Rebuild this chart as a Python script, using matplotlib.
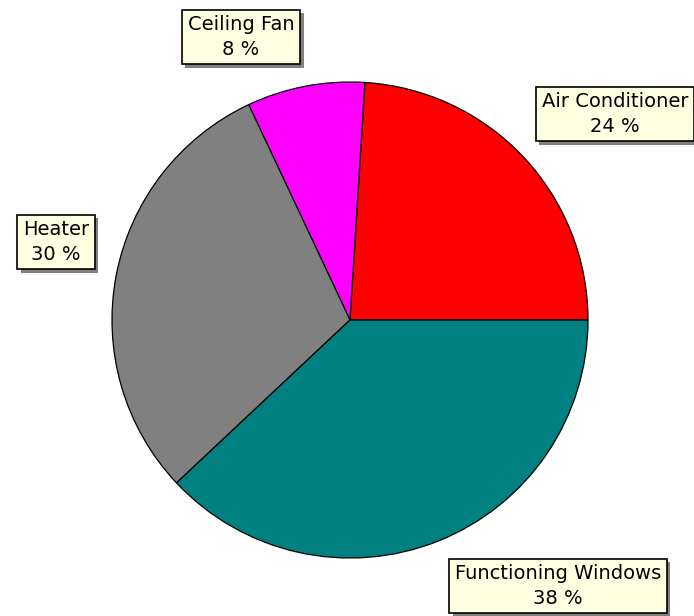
import matplotlib.pyplot as plt
import matplotlib.patheffects as pe

labels = ["Air Conditioner", "Ceiling Fan", "Heater", "Functioning Windows"]
values = [24, 8, 30, 38]
colors = ["#FF0000", "#FF00FF", "#808080", "#008080"]

# label box centres in pixel coordinates (y measured from top)
label_pos = [(615, 114), (241, 37), (56, 242), (558, 586)]

W, H = 694, 616
fig = plt.figure(figsize=(W / 100, H / 100), dpi=100)
ax = fig.add_axes([0, 0, 1, 1])

ax.pie(values, colors=colors, startangle=0, counterclock=True,
       center=(350, H - 320), radius=238,
       wedgeprops=dict(edgecolor="black", linewidth=0.9), frame=True)
ax.set_xlim(0, W)
ax.set_ylim(0, H)
ax.set_aspect("equal")
ax.axis("off")

for lab, val, (x, y) in zip(labels, values, label_pos):
    t = ax.text(x, H - y, f"{lab}\n{val} %", ha="center", va="center",
                fontsize=14, family="DejaVu Sans", linespacing=1.35,
                bbox=dict(boxstyle="square,pad=0.3", facecolor="#FFFFE1",
                          edgecolor="black", linewidth=1.2))
    t.get_bbox_patch().set_path_effects(
        [pe.SimplePatchShadow(offset=(2.5, -2.5), shadow_rgbFace="#808080", alpha=1.0),
         pe.Normal()])

fig.savefig("out.png", dpi=100)
